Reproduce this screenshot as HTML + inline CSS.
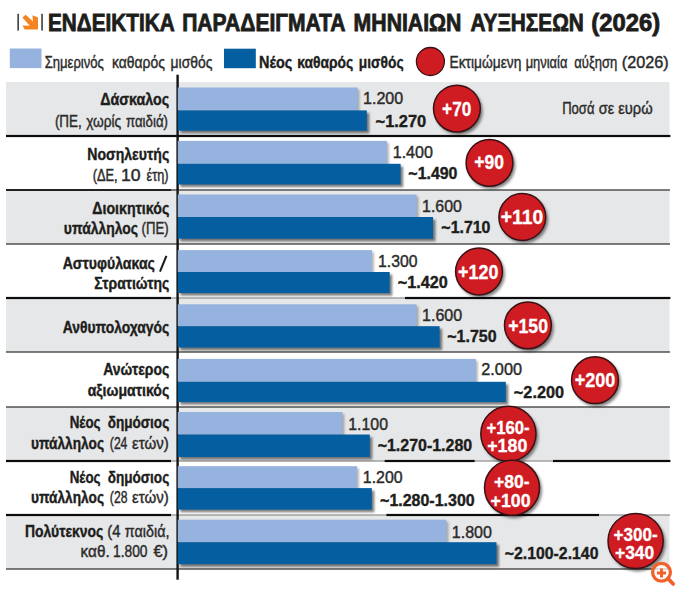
<!DOCTYPE html>
<html lang="el"><head><meta charset="utf-8"><title>chart</title>
<style>
html,body{margin:0;padding:0;background:#fff;}
body{width:680px;height:591px;overflow:hidden;font-family:"Liberation Sans",sans-serif;}
svg{display:block;position:absolute;left:0;top:0}
text{font-family:"Liberation Sans",sans-serif;}
.b{font-weight:bold;fill:#1d1d1b;stroke:#1d1d1b;stroke-width:0.4px}
.r{font-weight:normal;fill:#2b2b2a;stroke:#2b2b2a;stroke-width:0.42px}
.w{font-weight:bold;fill:#fff;stroke:#fff;stroke-width:0.3px}
.t{stroke-width:0.8px}
</style></head><body>
<svg width="680" height="591" viewBox="0 0 680 591">
<defs>
<filter id="sh" x="-5%" y="-30%" width="115%" height="180%"><feGaussianBlur stdDeviation="1.2"/></filter>
<filter id="cs" x="-30%" y="-30%" width="170%" height="170%"><feGaussianBlur stdDeviation="1.6"/></filter>
</defs>
<rect width="680" height="591" fill="#fff"/>

<rect x="6" y="82" width="663.5" height="54" fill="#e6e7e8"/>
<rect x="6" y="190" width="663.5" height="54" fill="#e6e7e8"/>
<rect x="6" y="298" width="663.5" height="54" fill="#e6e7e8"/>
<rect x="6" y="407" width="663.5" height="54" fill="#e6e7e8"/>
<rect x="6" y="515" width="663.5" height="54" fill="#e6e7e8"/>
<rect x="6" y="135.35" width="664" height="1.3" fill="#3a3a3a"/>
<rect x="6" y="189.35" width="664" height="1.3" fill="#3a3a3a"/>
<rect x="6" y="243.35" width="664" height="1.3" fill="#3a3a3a"/>
<rect x="6" y="297.4" width="664" height="1.2" fill="#8e8e8e"/>
<rect x="6" y="351.35" width="664" height="1.3" fill="#3a3a3a"/>
<rect x="6" y="406.35" width="664" height="1.3" fill="#3a3a3a"/>
<rect x="6" y="460.4" width="664" height="1.2" fill="#8e8e8e"/>
<rect x="6" y="514.4" width="664" height="1.2" fill="#8e8e8e"/>
<rect x="6" y="568.35" width="664" height="1.3" fill="#3a3a3a"/>
<rect x="6" y="134.9" width="664.4" height="2.2" fill="#0c0c0c"/>
<rect x="6" y="189.1" width="165" height="1.8" fill="#1a1a1a"/>
<rect x="6" y="296.9" width="165" height="2.2" fill="#0c0c0c"/>
<rect x="405" y="296.9" width="265.4" height="2.2" fill="#0c0c0c"/>
<rect x="6" y="459.9" width="165" height="2.2" fill="#0c0c0c"/>
<rect x="384.7" y="459.9" width="89.9" height="2.2" fill="#0c0c0c"/>
<rect x="553" y="459.9" width="117.4" height="2.2" fill="#0c0c0c"/>
<rect x="6" y="513.9" width="165" height="2.2" fill="#0c0c0c"/>
<rect x="386.4" y="513.9" width="212.6" height="2.2" fill="#0c0c0c"/>
<g filter="url(#sh)"><rect x="180.3" y="113" width="189" height="20.3" fill="#000" opacity="0.5"/><rect x="179.8" y="89.5" width="179.7" height="22.9" fill="#000" opacity="0.28"/></g>
<g filter="url(#sh)"><rect x="180.3" y="166.4" width="222.8" height="20.7" fill="#000" opacity="0.5"/><rect x="179.8" y="142.9" width="209.2" height="22.9" fill="#000" opacity="0.28"/></g>
<g filter="url(#sh)"><rect x="180.3" y="219.6" width="255.2" height="21.7" fill="#000" opacity="0.5"/><rect x="179.8" y="196.5" width="238.8" height="22.5" fill="#000" opacity="0.28"/></g>
<g filter="url(#sh)"><rect x="180.3" y="274.6" width="211.9" height="21.1" fill="#000" opacity="0.5"/><rect x="179.8" y="252.1" width="194.2" height="21.9" fill="#000" opacity="0.28"/></g>
<g filter="url(#sh)"><rect x="180.3" y="328.8" width="261.8" height="21.3" fill="#000" opacity="0.5"/><rect x="179.8" y="306.3" width="238.8" height="21.9" fill="#000" opacity="0.28"/></g>
<g filter="url(#sh)"><rect x="180.3" y="384.4" width="328" height="20.3" fill="#000" opacity="0.5"/><rect x="179.8" y="360.9" width="298.1" height="22.9" fill="#000" opacity="0.28"/></g>
<g filter="url(#sh)"><rect x="180.3" y="437.1" width="192" height="22.5" fill="#000" opacity="0.5"/><rect x="179.8" y="414" width="164.6" height="22.5" fill="#000" opacity="0.28"/></g>
<g filter="url(#sh)"><rect x="180.3" y="490.7" width="194" height="21.5" fill="#000" opacity="0.5"/><rect x="179.8" y="468.2" width="179.2" height="21.9" fill="#000" opacity="0.28"/></g>
<g filter="url(#sh)"><rect x="180.3" y="544.8" width="318.7" height="22" fill="#000" opacity="0.5"/><rect x="179.8" y="521.7" width="268.7" height="22.5" fill="#000" opacity="0.28"/></g>
<rect x="176.4" y="74.7" width="2.4" height="505" fill="#141414"/>
<rect x="177.8" y="87.5" width="179.7" height="22.9" fill="#95b3de"/>
<rect x="177.8" y="110.4" width="189" height="20.3" fill="#045e9f"/>
<rect x="177.8" y="140.9" width="209.2" height="22.9" fill="#95b3de"/>
<rect x="177.8" y="163.8" width="222.8" height="20.7" fill="#045e9f"/>
<rect x="177.8" y="194.5" width="238.8" height="22.5" fill="#95b3de"/>
<rect x="177.8" y="217" width="255.2" height="21.7" fill="#045e9f"/>
<rect x="177.8" y="250.1" width="194.2" height="21.9" fill="#95b3de"/>
<rect x="177.8" y="272" width="211.9" height="21.1" fill="#045e9f"/>
<rect x="177.8" y="304.3" width="238.8" height="21.9" fill="#95b3de"/>
<rect x="177.8" y="326.2" width="261.8" height="21.3" fill="#045e9f"/>
<rect x="177.8" y="358.9" width="298.1" height="22.9" fill="#95b3de"/>
<rect x="177.8" y="381.8" width="328" height="20.3" fill="#045e9f"/>
<rect x="177.8" y="412" width="164.6" height="22.5" fill="#95b3de"/>
<rect x="177.8" y="434.5" width="192" height="22.5" fill="#045e9f"/>
<rect x="177.8" y="466.2" width="179.2" height="21.9" fill="#95b3de"/>
<rect x="177.8" y="488.1" width="194" height="21.5" fill="#045e9f"/>
<rect x="177.8" y="519.7" width="268.7" height="22.5" fill="#95b3de"/>
<rect x="177.8" y="542.2" width="318.7" height="22" fill="#045e9f"/>
<text class="b t" font-size="23.2" x="48.05" y="30.6" textLength="126.63" lengthAdjust="spacingAndGlyphs">ΕΝΔΕΙΚΤΙΚΑ</text>
<text class="b t" font-size="23.2" x="182.13" y="30.6" textLength="163.40" lengthAdjust="spacingAndGlyphs">ΠΑΡΑΔΕΙΓΜΑΤΑ</text>
<text class="b t" font-size="23.2" x="353.62" y="30.6" textLength="107.85" lengthAdjust="spacingAndGlyphs">ΜΗΝΙΑΙΩΝ</text>
<text class="b t" font-size="23.2" x="470.48" y="30.6" textLength="113.38" lengthAdjust="spacingAndGlyphs">ΑΥΞΗΣΕΩΝ</text>
<text class="b t" font-size="23.2" x="591.31" y="30.6" textLength="68.78" lengthAdjust="spacingAndGlyphs">(2026)</text>
<rect x="17.4" y="13.8" width="1.5" height="16.8" fill="#333"/><rect x="41.3" y="13.8" width="1.5" height="16.8" fill="#333"/>
<path d="M22.4 17.4 L25.6 14.7 L33 21.4 L32.4 15.2 L38 17.4 L38 29.4 L24.6 29.4 L22.6 25.4 L29.8 25.8 Z" fill="#f5831f"/>
<rect x="9.8" y="48.5" width="31.7" height="19.6" fill="#95b3de"/>
<rect x="224" y="48.7" width="31.8" height="19.5" fill="#045e9f"/>
<circle cx="430.4" cy="61.5" r="14" fill="#cf1b22" stroke="#3a1215" stroke-width="1.3"/>
<text class="r" font-size="16.2" x="44.65" y="68" textLength="59.25" lengthAdjust="spacingAndGlyphs">Σημερινός</text>
<text class="r" font-size="16.2" x="111.90" y="68" textLength="52.95" lengthAdjust="spacingAndGlyphs">καθαρός</text>
<text class="r" font-size="16.2" x="170.60" y="68" textLength="41.82" lengthAdjust="spacingAndGlyphs">μισθός</text>
<text class="b" font-size="16.6" x="259.06" y="67.6" textLength="33.31" lengthAdjust="spacingAndGlyphs">Νέος</text>
<text class="b" font-size="16.6" x="297.23" y="67.6" textLength="56.01" lengthAdjust="spacingAndGlyphs">καθαρός</text>
<text class="b" font-size="16.6" x="358.84" y="67.6" textLength="44.72" lengthAdjust="spacingAndGlyphs">μισθός</text>
<text class="r" font-size="16.2" x="449.50" y="67.6" textLength="71.89" lengthAdjust="spacingAndGlyphs">Εκτιμώμενη</text>
<text class="r" font-size="16.2" x="525.66" y="67.6" textLength="41.70" lengthAdjust="spacingAndGlyphs">μηνιαία</text>
<text class="r" font-size="16.2" x="574.28" y="67.6" textLength="43.10" lengthAdjust="spacingAndGlyphs">αύξηση</text>
<text class="r" font-size="16.2" x="621.83" y="67.6" textLength="46.86" lengthAdjust="spacingAndGlyphs">(2026)</text>
<text class="r" font-size="16.2" x="562.15" y="114.3" textLength="32.32" lengthAdjust="spacingAndGlyphs">Ποσά</text>
<text class="r" font-size="16.2" x="598.82" y="114.3" textLength="15.41" lengthAdjust="spacingAndGlyphs">σε</text>
<text class="r" font-size="16.2" x="618.29" y="114.3" textLength="34.33" lengthAdjust="spacingAndGlyphs">ευρώ</text>
<text class="b" font-size="16.6" x="100.13" y="105.2" textLength="68.97" lengthAdjust="spacingAndGlyphs">Δάσκαλος</text>
<text class="r" font-size="16.2" x="54.89" y="126.8" textLength="26.92" lengthAdjust="spacingAndGlyphs">(ΠΕ,</text>
<text class="r" font-size="16.2" x="86.16" y="126.8" textLength="34.97" lengthAdjust="spacingAndGlyphs">χωρίς</text>
<text class="r" font-size="16.2" x="125.97" y="126.8" textLength="42.04" lengthAdjust="spacingAndGlyphs">παιδιά)</text>
<text class="b" font-size="16.6" x="87.28" y="159.5" textLength="81.95" lengthAdjust="spacingAndGlyphs">Νοσηλευτής</text>
<text class="r" font-size="16.2" x="92.63" y="180.7" textLength="24.97" lengthAdjust="spacingAndGlyphs">(ΔΕ,</text>
<text class="r" font-size="16.2" x="121.08" y="180.7" textLength="19.58" lengthAdjust="spacingAndGlyphs">10</text>
<text class="r" font-size="16.2" x="146.55" y="180.7" textLength="22.08" lengthAdjust="spacingAndGlyphs">έτη)</text>
<text class="b" font-size="16.6" x="92.33" y="213.6" textLength="76.91" lengthAdjust="spacingAndGlyphs">Διοικητικός</text>
<text class="b" font-size="16.6" x="63.86" y="233.6" textLength="74.26" lengthAdjust="spacingAndGlyphs">υπάλληλος</text>
<text class="r" font-size="16.2" x="141.61" y="233.6" textLength="27.05" lengthAdjust="spacingAndGlyphs">(ΠΕ)</text>
<text class="b" font-size="16.6" x="62.65" y="268.7" textLength="92.21" lengthAdjust="spacingAndGlyphs">Αστυφύλακας</text>
<path d="M160 271.6 L166.4 255.8" stroke="#1d1d1b" stroke-width="2.1" fill="none"/>
<text class="b" font-size="16.6" x="94.17" y="289.2" textLength="75.10" lengthAdjust="spacingAndGlyphs">Στρατιώτης</text>
<text class="b" font-size="16.6" x="62.65" y="333" textLength="106.57" lengthAdjust="spacingAndGlyphs">Ανθυπολοχαγός</text>
<text class="b" font-size="16.6" x="103.15" y="374.8" textLength="66.09" lengthAdjust="spacingAndGlyphs">Ανώτερος</text>
<text class="b" font-size="16.6" x="87.64" y="396.2" textLength="81.61" lengthAdjust="spacingAndGlyphs">αξιωματικός</text>
<text class="b" font-size="16.6" x="69.73" y="427.8" textLength="30.79" lengthAdjust="spacingAndGlyphs">Νέος</text>
<text class="b" font-size="16.6" x="107.66" y="427.8" textLength="61.56" lengthAdjust="spacingAndGlyphs">δημόσιος</text>
<text class="b" font-size="16.6" x="30.98" y="448.5" textLength="73.04" lengthAdjust="spacingAndGlyphs">υπάλληλος</text>
<text class="r" font-size="16.2" x="109.87" y="448.5" textLength="17.49" lengthAdjust="spacingAndGlyphs">(24</text>
<text class="r" font-size="16.2" x="131.97" y="448.5" textLength="36.82" lengthAdjust="spacingAndGlyphs">ετών)</text>
<text class="b" font-size="16.6" x="69.73" y="482.8" textLength="30.79" lengthAdjust="spacingAndGlyphs">Νέος</text>
<text class="b" font-size="16.6" x="107.66" y="482.8" textLength="61.56" lengthAdjust="spacingAndGlyphs">δημόσιος</text>
<text class="b" font-size="16.6" x="30.98" y="502.8" textLength="73.04" lengthAdjust="spacingAndGlyphs">υπάλληλος</text>
<text class="r" font-size="16.2" x="109.87" y="502.8" textLength="17.62" lengthAdjust="spacingAndGlyphs">(28</text>
<text class="r" font-size="16.2" x="131.97" y="502.8" textLength="36.82" lengthAdjust="spacingAndGlyphs">ετών)</text>
<text class="b" font-size="16.6" x="24.99" y="536.5" textLength="78.39" lengthAdjust="spacingAndGlyphs">Πολύτεκνος</text>
<text class="r" font-size="16.2" x="107.31" y="536.5" textLength="13.12" lengthAdjust="spacingAndGlyphs">(4</text>
<text class="r" font-size="16.2" x="124.83" y="536.5" textLength="44.60" lengthAdjust="spacingAndGlyphs">παιδιά,</text>
<text class="r" font-size="16.2" x="80.61" y="557.2" textLength="29.04" lengthAdjust="spacingAndGlyphs">καθ.</text>
<text class="r" font-size="16.2" x="113.07" y="557.2" textLength="34.45" lengthAdjust="spacingAndGlyphs">1.800</text>
<text class="r" font-size="16.2" x="153.44" y="557.2" textLength="14.62" lengthAdjust="spacingAndGlyphs">€)</text>
<text class="r" font-size="16.6" x="362.99" y="103.8" textLength="40.21" lengthAdjust="spacingAndGlyphs">1.200</text>
<text class="b" font-size="17.4" x="375.54" y="126.5" textLength="50.74" lengthAdjust="spacingAndGlyphs">~1.270</text>
<text class="r" font-size="16.6" x="392.69" y="157.5" textLength="40.31" lengthAdjust="spacingAndGlyphs">1.400</text>
<text class="b" font-size="17.4" x="408.36" y="179.3" textLength="49.10" lengthAdjust="spacingAndGlyphs">~1.490</text>
<text class="r" font-size="16.6" x="422.11" y="211.9" textLength="39.79" lengthAdjust="spacingAndGlyphs">1.600</text>
<text class="b" font-size="17.4" x="441.36" y="232.9" textLength="49.10" lengthAdjust="spacingAndGlyphs">~1.710</text>
<text class="r" font-size="16.6" x="378.02" y="266.5" textLength="39.37" lengthAdjust="spacingAndGlyphs">1.300</text>
<text class="b" font-size="17.4" x="397.75" y="288.4" textLength="50.02" lengthAdjust="spacingAndGlyphs">~1.420</text>
<text class="r" font-size="16.6" x="422.10" y="321" textLength="40.10" lengthAdjust="spacingAndGlyphs">1.600</text>
<text class="b" font-size="17.4" x="447.26" y="342.2" textLength="49.40" lengthAdjust="spacingAndGlyphs">~1.750</text>
<text class="r" font-size="16.6" x="481.29" y="375.3" textLength="40.72" lengthAdjust="spacingAndGlyphs">2.000</text>
<text class="b" font-size="17.4" x="513.85" y="397.6" textLength="50.23" lengthAdjust="spacingAndGlyphs">~2.200</text>
<text class="r" font-size="16.6" x="348.31" y="429.7" textLength="39.68" lengthAdjust="spacingAndGlyphs">1.100</text>
<text class="b" font-size="17.4" x="377.66" y="451.3" textLength="94.51" lengthAdjust="spacingAndGlyphs">~1.270-1.280</text>
<text class="r" font-size="16.6" x="362.81" y="483.2" textLength="39.79" lengthAdjust="spacingAndGlyphs">1.200</text>
<text class="b" font-size="17.4" x="380.06" y="505.5" textLength="94.61" lengthAdjust="spacingAndGlyphs">~1.280-1.300</text>
<text class="r" font-size="16.6" x="451.80" y="537.5" textLength="40.10" lengthAdjust="spacingAndGlyphs">1.800</text>
<text class="b" font-size="17.4" x="504.77" y="558.5" textLength="93.70" lengthAdjust="spacingAndGlyphs">~2.100-2.140</text>
<circle cx="458.9" cy="111.1" r="23.8" fill="#000" opacity="0.5" filter="url(#cs)"/>
<circle cx="456.9" cy="108.6" r="23.4" fill="#cf1b22" stroke="#3a1215" stroke-width="1.5"/>
<circle cx="491.5" cy="165.3" r="23.8" fill="#000" opacity="0.5" filter="url(#cs)"/>
<circle cx="489.5" cy="162.8" r="23.4" fill="#cf1b22" stroke="#3a1215" stroke-width="1.5"/>
<circle cx="524.3" cy="219.5" r="23.8" fill="#000" opacity="0.5" filter="url(#cs)"/>
<circle cx="522.3" cy="217" r="23.4" fill="#cf1b22" stroke="#3a1215" stroke-width="1.5"/>
<circle cx="481" cy="274" r="23.8" fill="#000" opacity="0.5" filter="url(#cs)"/>
<circle cx="479" cy="271.5" r="23.4" fill="#cf1b22" stroke="#3a1215" stroke-width="1.5"/>
<circle cx="529.9" cy="327.8" r="23.8" fill="#000" opacity="0.5" filter="url(#cs)"/>
<circle cx="527.9" cy="325.3" r="23.4" fill="#cf1b22" stroke="#3a1215" stroke-width="1.5"/>
<circle cx="597" cy="382.7" r="23.8" fill="#000" opacity="0.5" filter="url(#cs)"/>
<circle cx="595" cy="380.2" r="23.4" fill="#cf1b22" stroke="#3a1215" stroke-width="1.5"/>
<circle cx="510.4" cy="436.3" r="28" fill="#000" opacity="0.5" filter="url(#cs)"/>
<circle cx="508.4" cy="433.8" r="27.6" fill="#cf1b22" stroke="#3a1215" stroke-width="1.5"/>
<circle cx="514" cy="490.3" r="27.9" fill="#000" opacity="0.5" filter="url(#cs)"/>
<circle cx="512" cy="487.8" r="27.5" fill="#cf1b22" stroke="#3a1215" stroke-width="1.5"/>
<circle cx="637.6" cy="543.5" r="28" fill="#000" opacity="0.5" filter="url(#cs)"/>
<circle cx="635.6" cy="541" r="27.6" fill="#cf1b22" stroke="#3a1215" stroke-width="1.5"/>
<text class="w" font-size="19.8" x="442.11" y="115.6" textLength="29.20" lengthAdjust="spacingAndGlyphs">+70</text>
<text class="w" font-size="19.8" x="474.20" y="169.4" textLength="29.73" lengthAdjust="spacingAndGlyphs">+90</text>
<text class="w" font-size="19.8" x="500.83" y="224.4" textLength="42.39" lengthAdjust="spacingAndGlyphs">+110</text>
<text class="w" font-size="19.8" x="458.08" y="278.6" textLength="40.28" lengthAdjust="spacingAndGlyphs">+120</text>
<text class="w" font-size="19.8" x="508.19" y="332.7" textLength="39.76" lengthAdjust="spacingAndGlyphs">+150</text>
<text class="w" font-size="19.8" x="574.68" y="387.1" textLength="40.69" lengthAdjust="spacingAndGlyphs">+200</text>
<text class="w" font-size="18.6" x="486.43" y="433.5" textLength="43.26" lengthAdjust="spacingAndGlyphs">+160-</text>
<text class="w" font-size="18.6" x="487.19" y="451.7" textLength="40.17" lengthAdjust="spacingAndGlyphs">+180</text>
<text class="w" font-size="18.6" x="494.10" y="487.7" textLength="35.49" lengthAdjust="spacingAndGlyphs">+80-</text>
<text class="w" font-size="18.6" x="490.59" y="506.6" textLength="40.07" lengthAdjust="spacingAndGlyphs">+100</text>
<text class="w" font-size="18.6" x="613.62" y="540.8" textLength="44.09" lengthAdjust="spacingAndGlyphs">+300-</text>
<text class="w" font-size="18.6" x="615.00" y="558.9" textLength="39.24" lengthAdjust="spacingAndGlyphs">+340</text>
<g fill="none" stroke="#f1622a"><circle cx="661.5" cy="572.3" r="8.9" stroke-width="3.3" fill="rgba(255,255,255,0.75)"/><path d="M668 578.6 L673.2 584" stroke-width="3.8" stroke-linecap="round"/><path d="M656.9 573 H666.1 M661.5 568.5 V577.5" stroke-width="3"/></g>
</svg></body></html>
